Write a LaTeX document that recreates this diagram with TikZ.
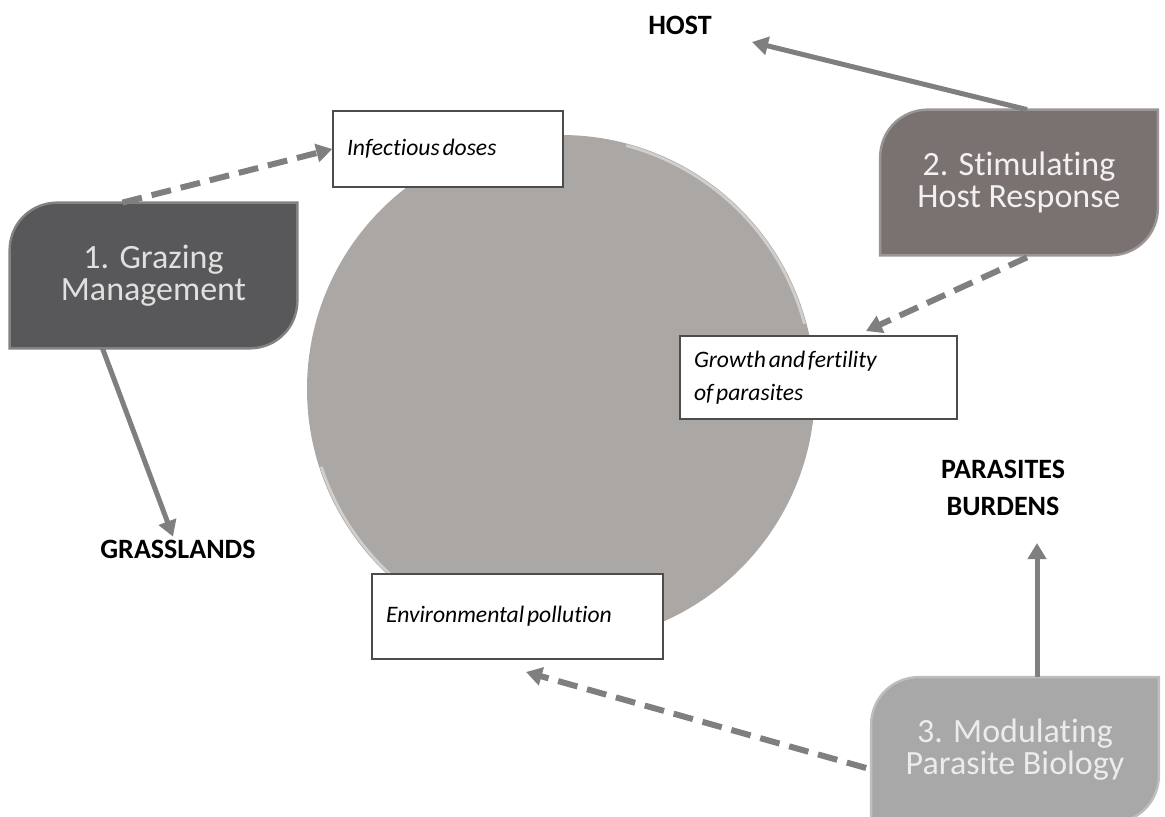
\documentclass[tikz,border=0pt]{standalone}
\usepackage{fontspec}
\setmainfont{Carlito}[Ligatures=NoCommon]
\usepackage{tikz}
\usetikzlibrary{
    calc,
    arrows.meta,
    backgrounds
}
\definecolor{grazfill}{HTML}{58585A}
\definecolor{hostfill}{HTML}{7A7270}
\definecolor{parafill}{HTML}{A8A8A8}
\definecolor{discfill}{HTML}{ABA7A5}
\definecolor{linkgray}{HTML}{7F7F7F}
\newcommand{\tightwords}{\spaceskip=0.12em\relax}
\tikzset{
    strategy/.style={minimum width=143.5pt, minimum height=72.5pt, align=center,
        font=\fontsize{17}{16}\selectfont},
    factor/.style={draw=black!70, fill=white, line width=0.7pt, align=left,
        inner xsep=7pt, font=\itshape\fontsize{11.8}{16.5}\selectfont,
        execute at begin node=\tightwords},
    outcome/.style={align=center, font=\bfseries\fontsize{14}{18.5}\selectfont},
    solidlink/.style={linkgray, line width=2.5pt, -{Triangle[length=8pt,width=9pt]}},
    dashlink/.style={linkgray, line width=3pt, dash pattern=on 10pt off 5pt,
        -{Triangle[length=8pt,width=9pt]}},
    rim/.style={white!45!discfill, line width=1.4pt}
}

\begin{document}
\begin{tikzpicture}[x=0.5pt, y=-0.5pt]
        \useasboundingbox (0,0) rectangle (1165,817);
        % central disc
        \draw (561,389) node[circle, fill=discfill, minimum size=254pt, inner sep=0pt](disc){};
        \draw[rim] ($(disc.center)+(15:126pt)$) arc[start angle=15, end angle=75, radius=126pt];
        \draw[rim] ($(disc.center)+(198:126pt)$) arc[start angle=198, end angle=242, radius=126pt];
        % factors
        \draw (448,149) node[factor, minimum width=115pt, minimum height=38pt, text width=101pt](dose){Infectious doses};
        \draw (818.5,377.5) node[factor, minimum width=138.5pt, minimum height=41.5pt, text width=124.5pt](growth){Growth and fertility\\of parasites};
        \draw (517.5,616.5) node[factor, minimum width=145.5pt, minimum height=42.5pt, text width=131.5pt](envir){Environmental pollution};
        % strategies
        \draw (153.5,275.5) node[strategy, text=white!88!black](graz){1. Grazing\\Management};
        \draw (1019,182.5) node[strategy, minimum width=138.5pt, text=white!90!hostfill](host){2. Stimulating\\Host Response};
        \draw (1015,750) node[strategy, text=white!78!parafill](para){3. Modulating\\Parasite Biology};
        \begin{scope}[on background layer]
            \foreach \b/\c in {graz/grazfill, host/hostfill, para/parafill}{
                \filldraw[fill=\c, draw=\c!75!white, line width=1.2pt]
                    (\b.south west) -- ($(\b.north west)+(0,48)$)
                    .. controls ($(\b.north west)+(0,21)$) and ($(\b.north west)+(21,0)$) .. ($(\b.north west)+(48,0)$)
                    -- (\b.north east) -- ($(\b.south east)+(0,-48)$)
                    .. controls ($(\b.south east)+(0,-21)$) and ($(\b.south east)+(-21,0)$) .. ($(\b.south east)+(-48,0)$)
                    -- cycle;
            }
        \end{scope}
        % outcomes
        \draw (680,25) node[outcome](hostlbl){HOST};
        \draw (178,549) node[outcome](grass){GRASSLANDS};
        \draw (1003,488) node[outcome](burden){PARASITES\\BURDENS};
        \coordinate (hosttip) at (752,42);
        \coordinate (burdentip) at (1037,543);
        \coordinate (growthtip) at (866,331);
        \coordinate (envirtip) at (526,672);
        % links
        \draw[solidlink] ($(graz.south)+(-51,0)$) -- ($(grass.north)+(-5,4)$);
        \draw[solidlink] ($(host.north)+(8,0)$) -- (hosttip);
        \draw[solidlink] (para.north -| burdentip) -- (burdentip);
        \draw[dashlink] ($(graz.north)+(-31,0)$) -- (dose.west);
        \draw[dashlink] ($(host.south)+(8,2)$) -- (growthtip);
        \draw[dashlink] ($(para.west)+(-5,18)$) -- (envirtip);
    \end{tikzpicture}
\end{document}
